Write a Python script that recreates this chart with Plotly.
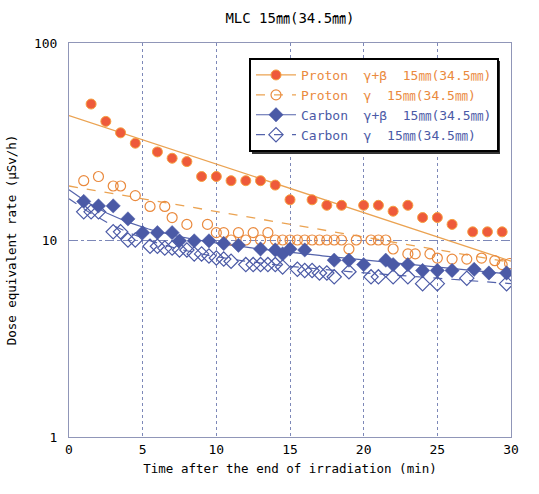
import numpy as np
import plotly.graph_objects as go

# ---- data ----
proton_gb_t = [1.5, 2.5, 3.5, 4.5, 6, 7, 8, 9, 10, 11, 12, 13, 14, 15, 16.5, 17.5, 18.5,
               20, 21, 22, 23, 24, 25, 26, 27.4, 28.4, 29.4]
proton_gb_v = [49, 40, 35, 31, 28, 26, 25, 21, 21, 20, 20, 20, 19, 16, 16, 15, 15,
               15, 15, 14, 15, 13, 13, 12, 11, 11, 11]

proton_g_t = [1, 2, 3, 3.5, 4.5, 5.5, 6.5, 7, 8, 9.4, 10, 10.5, 11, 11.5, 12, 12.5, 13, 13.5,
              14, 14.5, 15, 15.5, 16, 16.5, 17, 17.5, 18, 18.5, 19, 19.5, 20.5, 21, 21.5,
              22, 23, 23.5, 24.5, 25, 26, 27, 28, 28.9, 29.4, 29.9]
proton_g_v = [20, 21, 18.8, 18.8, 16.8, 14.8, 14.8, 13, 12, 12, 10.9, 10.9, 10, 10.9, 10, 10.9, 10, 10.9,
              10, 10, 10, 10, 10, 10, 10, 10, 10, 10, 9, 10, 10, 10, 10,
              9, 8.5, 8.5, 8.5, 8.1, 8, 8, 8.1, 7.85, 7.5, 7.6]

carbon_gb_t = [1, 2, 3, 4, 5, 6, 7, 7.5, 8.5, 9.5, 10.5, 11.5, 13, 14, 14.5, 15, 16, 18, 19,
               20, 21.5, 22, 23, 24, 25, 26, 27.5, 28.5, 29.7]
carbon_gb_v = [15.7, 14.9, 14.9, 12.8, 10.9, 10.9, 10.9, 9.9, 9.9, 9.9, 9.6, 9.4, 9.0, 8.9, 8.5, 9.0, 8.9, 7.9, 7.9,
               7.5, 7.9, 7.5, 7.5, 7.0, 7.0, 7.0, 7.1, 6.8, 6.8]

carbon_g_t = [1, 1.5, 2, 3, 3.5, 4, 4.5, 5.5, 6, 6.5, 7, 7.5, 8, 8.5, 9, 9.5, 10, 10.5, 11, 12,
              12.5, 13, 13.5, 14, 14.5, 15.5, 16, 16.5, 17, 17.5, 18, 19, 20.5, 21, 22, 23, 24,
              25, 27, 29.7]
carbon_g_v = [13.9, 13.9, 13.9, 11.0, 11.0, 10.0, 10.0, 9.3, 9.3, 9.1, 9.1, 8.9, 8.9, 8.5, 8.5, 8.3, 8.1, 8.0, 7.8, 7.5,
              7.5, 7.5, 7.5, 7.5, 7.3, 7.1, 7.0, 7.0, 6.8, 6.8, 6.5, 6.9, 6.5, 6.5, 6.5, 6.5, 6.0,
              6.0, 6.4, 6.0]

# trend-curve coefficients
# single exponential: A*exp(-k t); double exponential: a*exp(-k1 t) + b*exp(-k2 t)
fit_proton_gb = [42.8, 0.0567]
fit_proton_g = [18.8, 0.0298]
fit_carbon_gb = [7.0, 0.31, 11.0, 0.0165]
fit_carbon_g = [7.6, 0.255, 8.6, 0.012]

x_ticks = [0, 5, 10, 15, 20, 25, 30]
y_ticks = [1, 10, 100]

names = ["Proton\u00a0\u00a0γ+β\u00a0\u00a015㎜(34.5㎜)",
         "Proton\u00a0\u00a0γ\u00a0\u00a015㎜(34.5㎜)",
         "Carbon\u00a0\u00a0γ+β\u00a0\u00a015㎜(34.5㎜)",
         "Carbon\u00a0\u00a0γ\u00a0\u00a015㎜(34.5㎜)"]

tfit = np.linspace(0, 30, 151)


def single_exp(p):
    return p[0] * np.exp(-p[1] * tfit)


def double_exp(p):
    return p[0] * np.exp(-p[1] * tfit) + p[2] * np.exp(-p[3] * tfit)


ORANGE_LINE = "#eba352"
ORANGE = "#ea8a3e"
RED = "#ee5a3b"
BLUE = "#4b5aa6"
BLUE_LINE = "#5463ab"
FONT = "DejaVu Sans Mono, Noto Sans CJK JP"

fig = go.Figure()

# fit lines
fig.add_trace(go.Scatter(x=tfit, y=single_exp(fit_proton_gb), mode="lines",
                         line=dict(color=ORANGE_LINE, width=1.3), showlegend=False))
fig.add_trace(go.Scatter(x=tfit, y=single_exp(fit_proton_g), mode="lines",
                         line=dict(color=ORANGE_LINE, width=1.3, dash="dash"), showlegend=False))
fig.add_trace(go.Scatter(x=tfit, y=double_exp(fit_carbon_gb), mode="lines",
                         line=dict(color=BLUE_LINE, width=1.2), showlegend=False))
fig.add_trace(go.Scatter(x=tfit, y=double_exp(fit_carbon_g), mode="lines",
                         line=dict(color=BLUE_LINE, width=1.2, dash="dash"), showlegend=False))

# markers
m_pgb = dict(symbol="circle", size=10, color=RED, line=dict(color="#f6a040", width=1))
m_pg = dict(symbol="circle-open", size=10, color=ORANGE, line=dict(width=1.2))
m_cgb = dict(symbol="diamond", size=11, color=BLUE, line=dict(color=BLUE, width=0.5))
m_cg = dict(symbol="diamond-open", size=11, color=BLUE, line=dict(width=1.2))

fig.add_trace(go.Scatter(x=proton_gb_t, y=proton_gb_v, mode="markers", marker=m_pgb, showlegend=False))
fig.add_trace(go.Scatter(x=proton_g_t, y=proton_g_v, mode="markers", marker=m_pg, showlegend=False))
fig.add_trace(go.Scatter(x=carbon_gb_t, y=carbon_gb_v, mode="markers", marker=m_cgb, showlegend=False))
fig.add_trace(go.Scatter(x=carbon_g_t, y=carbon_g_v, mode="markers", marker=m_cg, showlegend=False))

# legend entries
leg = [(names[0], ORANGE, m_pgb, dict(color=ORANGE_LINE, width=1.3)),
       (names[1], ORANGE, m_pg, dict(color=ORANGE_LINE, width=1.3, dash="dash")),
       (names[2], BLUE, m_cgb, dict(color=BLUE_LINE, width=1.2)),
       (names[3], BLUE, m_cg, dict(color=BLUE_LINE, width=1.2, dash="dash"))]
for nm, col, mk, ln in leg:
    fig.add_trace(go.Scatter(x=[None], y=[None], mode="lines+markers", marker=mk, line=ln,
                             name=f'<span style="color:{col}">{nm}</span>'))

axis_line = "#9096b8"
grid_col = "#7d88b8"


def px_x(p):
    return (p - 69) / 442


def px_y(p):
    return (437 - p) / 394


fig.update_layout(
    width=539, height=494,
    margin=dict(l=69, r=28, t=43, b=57),
    paper_bgcolor="white", plot_bgcolor="white",
    font=dict(family=FONT, size=12, color="black"),
    title=dict(text="MLC 15㎜(34.5㎜)", x=0.538, xanchor="center", y=1 - 18 / 494,
               yanchor="middle", font=dict(size=14, family=FONT)),
    showlegend=True,
    legend=dict(x=px_x(249), y=px_y(58), xanchor="left", yanchor="top",
                bgcolor="white", bordercolor="black", borderwidth=2,
                font=dict(size=13, family=FONT), tracegroupgap=0, itemwidth=40),
    shapes=[dict(type="rect", xref="paper", yref="paper",
                 x0=px_x(252), x1=px_x(500), y0=px_y(154), y1=px_y(61),
                 fillcolor="#333333", line=dict(width=0), layer="above")],
    xaxis=dict(range=[0, 30], tickvals=x_ticks, ticks="", showgrid=True,
               gridcolor=grid_col, griddash="dot", gridwidth=1,
               showline=True, linecolor=axis_line, linewidth=1, mirror=True,
               zeroline=False, tickfont=dict(size=13),
               title=dict(text="Time after the end of irradiation (min)", standoff=8,
                          font=dict(size=12.5))),
    yaxis=dict(type="log", range=[0, 2], tickvals=y_ticks, ticktext=[str(v) for v in y_ticks],
               ticks="", showgrid=True, gridcolor=grid_col, griddash="dashdot", gridwidth=1,
               showline=True, linecolor=axis_line, linewidth=1, mirror=True,
               zeroline=False, tickfont=dict(size=13), ticklabelstandoff=8,
               title=dict(text="Dose equivalent rate (μSv/h)", standoff=14,
                          font=dict(size=12.5))),
)

fig.write_html("out.html")
